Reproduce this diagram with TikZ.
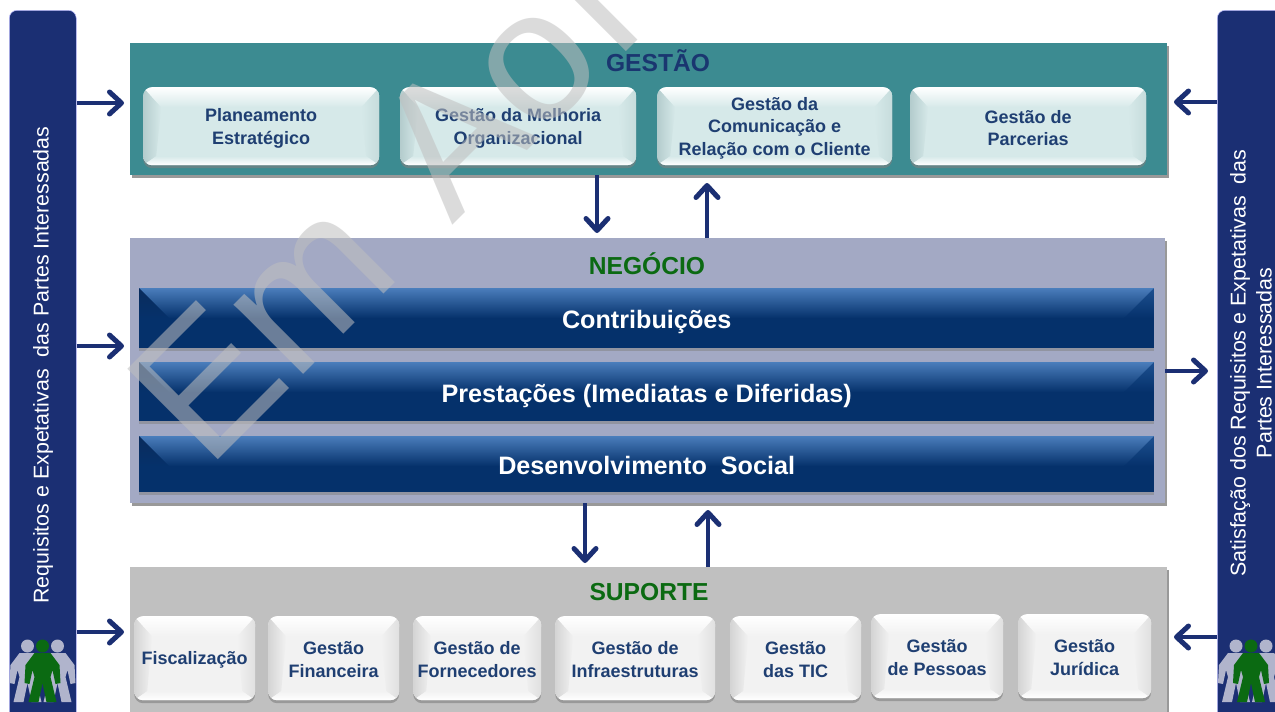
\documentclass[tikz,border=0pt]{standalone}
\usepackage{fontspec}
\setmainfont{Liberation Sans}
\usetikzlibrary{arrows.meta,shadows,calc}
\definecolor{navy}{HTML}{1B2F73}
\definecolor{titlenavy}{HTML}{1A3670}
\definecolor{titlegreen}{HTML}{0B6A12}
\definecolor{tealp}{HTML}{3C8B91}
\definecolor{slatep}{HTML}{A3A9C4}
\definecolor{grayp}{HTML}{C0C0C0}
\definecolor{boxtxt}{HTML}{1F3F72}
\definecolor{gfill}{HTML}{D6E9E9}
\definecolor{gside}{HTML}{B4CCCD}
\definecolor{gsider}{HTML}{C6DCDC}
\definecolor{sfill}{HTML}{F2F2F2}
\definecolor{sside}{HTML}{D4D4D4}
\definecolor{siderr}{HTML}{E0E0E0}
\definecolor{barfill}{HTML}{05316B}
\definecolor{bartop}{HTML}{4A7DBB}
\definecolor{barside}{HTML}{0A2C5C}
\definecolor{barright}{HTML}{1D5090}
\definecolor{personc}{HTML}{B0B4CC}
\newcommand{\bartext}[2]{\raisebox{#1}[0pt][0pt]{#2}}
\tikzset{
  x=1pt,y=-1pt,
  panel/.style={draw=none,fill=#1,minimum width=1037pt,inner sep=0pt,copy shadow={shadow xshift=2pt,shadow yshift=-3pt,fill=black!50,draw=none,opacity=.8}},
  ptitle/.style={font=\bfseries\fontsize{24.6}{27}\selectfont,text=#1,inner sep=0pt},
  softtxt/.style={inner sep=0pt,align=center,font=\bfseries\fontsize{18}{22.5}\selectfont,text=boxtxt},
  softbox/.style n args={3}{rounded corners=9pt,inner sep=0pt,anchor=north west,fill=#1,
    drop shadow={shadow xshift=0pt,shadow yshift=-3pt,opacity=.6},
    path picture={
      \begin{scope}[sharp corners]
      \path let \p1=(path picture bounding box.south west),\p2=(path picture bounding box.north east) in
        coordinate (A) at (\x1,\y1) coordinate (C) at (\x2,\y2) coordinate (B) at (\x2,\y1) coordinate (D) at (\x1,\y2);
      \coordinate (a) at ($(A)+(13pt,9pt)$);
      \coordinate (b) at ($(B)+(-13pt,9pt)$);
      \coordinate (c) at ($(C)+(-18pt,-20pt)$);
      \coordinate (d) at ($(D)+(18pt,-20pt)$);
      \shade[left color=#2,right color=#1] (A)--(a)--(d)--(D)--cycle;
      \shade[left color=#1,right color=#3] (B)--(b)--(c)--(C)--cycle;
      \shade[top color=white,bottom color=#1] (D)--(d)--(c)--(C)--cycle;
      \shade[top color=#1,bottom color=white] (A)--(a)--(b)--(B)--cycle;
      \end{scope}
    }},
  gbox/.style={softbox={gfill}{gside}{gsider}},
  sbox/.style={softbox={sfill}{sside}{siderr}},
  bluebar/.style={inner sep=0pt,anchor=north west,minimum width=1015pt,text=white,
    font=\bfseries\fontsize{25.2}{28}\selectfont,fill=barfill,
    drop shadow={shadow xshift=0pt,shadow yshift=-3pt,opacity=.5},
    path picture={
      \path let \p1=(path picture bounding box.south west),\p2=(path picture bounding box.north east) in
        coordinate (D) at (\x1,\y2) coordinate (C) at (\x2,\y2);
      \coordinate (d) at ($(D)+(30pt,-30pt)$);
      \coordinate (c) at ($(C)+(-30pt,-30pt)$);
      \coordinate (e) at ($(D)+(0pt,-30pt)$);
      \coordinate (f) at ($(C)+(0pt,-30pt)$);
      \shade[top color=bartop,bottom color=barfill] (D)--(d)--(c)--(C)--cycle;
      \shade[top color=barside,bottom color=barfill] (D)--(d)--(e)--cycle;
      \shade[top color=barright,bottom color=barfill] (C)--(c)--(f)--cycle;
    }},
  sidebar/.style={fill=navy,draw=blue!25!white,line width=.5pt,rounded corners=8pt,inner sep=0pt,anchor=north west},
  sidetxt/.style={text=white,font=\fontsize{21.4}{26}\selectfont,rotate=90,inner sep=0pt,align=center},
  flow/.style={draw=navy,line width=4pt,-{Straight Barb[round,length=12pt,width=22pt,line width=5pt]}},
  person/.pic={
    \fill[pic actions] (0,-25) circle (6.5);
    \fill[pic actions] (-8,-18) -- (8,-18) -- (17,-6) -- (18,12) -- (13,13) -- (10,-1) -- (8,6) -- (14,31) -- (4,31) -- (0,12) -- (-4,31) -- (-14,31) -- (-8,6) -- (-10,-1) -- (-13,13) -- (-18,12) -- (-17,-6) -- cycle;
  },
}
\begin{document}
\begin{tikzpicture}
\useasboundingbox (0,0) rectangle (1275,712);
\clip (0,0) rectangle (1275,712);
\fill[white] (0,0) rectangle (1275,712);

% side bars
\node[sidebar,minimum width=67pt,minimum height=730pt] (lbar) at (9,10) {};
\node[sidebar,minimum width=80pt,minimum height=730pt] (rbar) at (1217,10) {};
\node[sidetxt] (ltxt) at (43,365) {Requisitos e Expetativas\ \ das Partes Interessadas};
\node[sidetxt] (rtxt) at (1251,363) {Satisfação dos Requisitos e Expetativas\ \ das\\Partes Interessadas};

% people
\foreach \px in {42.5,1251}{
  \pic[fill=personc] at (\px-15,671) {person};
  \pic[fill=personc] at (\px+15,671) {person};
  \pic[fill=titlegreen] at (\px,671) {person};
}

% panels
\node[panel=tealp,minimum height=132pt,anchor=north west] (gestao) at (130,43) {};
\node[panel=slatep,minimum height=265pt,anchor=north west,minimum width=1035pt] (negocio) at (130,238) {};
\node[panel=grayp,minimum height=160pt,anchor=north west] (suporte) at (130,567) {};
\node[ptitle=titlenavy] (tg) at (658,61) {GESTÃO};
\node[ptitle=titlegreen] (tn) at (647,264) {NEGÓCIO};
\node[ptitle=titlegreen] (ts) at (649,592) {SUPORTE};

% gestao boxes
\foreach \nm/\xx/\ww/\txt in {g1/143/236/{Planeamento\\Estratégico},g2/400/236/{Gestão da Melhoria\\Organizacional},g3/657/235/{Gestão da\\Comunicação e\\Relação com o Cliente},g4/910/236/{Gestão de\\Parcerias}}{
  \node[gbox,minimum width=\ww pt,minimum height=78pt] (\nm) at (\xx,87) {};
  \node[softtxt] (\nm t) at ($(\nm.center)+(0,2)$) {\txt};
}
% negocio bars
\node[bluebar,minimum height=60pt] (b1) at (139,288) {\bartext{-10pt}{Contribuições}};
\node[bluebar,minimum height=59pt] (b2) at (139,362) {\bartext{-10.5pt}{Prestações (Imediatas e Diferidas)}};
\node[bluebar,minimum height=56pt] (b3) at (139,436) {\bartext{-10pt}{Desenvolvimento\ \ Social}};
% suporte boxes
\foreach \nm/\xx/\yy/\ww/\txt in {s1/134/616/121/{Fiscalização},s2/268/616/131/{Gestão\\Financeira},s3/413/616/128/{Gestão de\\Fornecedores},s4/555/616/160/{Gestão de\\Infraestruturas},s5/730/616/131/{Gestão\\das TIC},s6/871/614/132/{Gestão\\de Pessoas},s7/1018/614/133/{Gestão\\Jurídica}}{
  \node[sbox,minimum width=\ww pt,minimum height=84pt] (\nm) at (\xx,\yy) {};
  \node[softtxt] (\nm t) at ($(\nm.center)+(0,1.5)$) {\txt};
}

% connectors
\coordinate (la) at (124,103); \coordinate (lb) at (124,346); \coordinate (lc) at (124,632);
\coordinate (ra) at (1174,102); \coordinate (rb) at (1208,371); \coordinate (rc) at (1174,637);
\draw[flow] (lbar.east |- la) -- (la);
\draw[flow] (lbar.east |- lb) -- (lb);
\draw[flow] (lbar.east |- lc) -- (lc);
\draw[flow] (rbar.west |- ra) -- (ra);
\draw[flow] (negocio.east |- rb) -- (rb);
\draw[flow] (rbar.west |- rc) -- (rc);
\coordinate (v1) at (597,233); \coordinate (v2) at (707,183); \coordinate (v3) at (585,563); \coordinate (v4) at (708,510);
\draw[flow] (gestao.south -| v1) -- (v1);
\draw[flow] (negocio.north -| v2) -- (v2);
\draw[flow] (negocio.south -| v3) -- (v3);
\draw[flow] (suporte.north -| v4) -- (v4);

% watermark
\node[rotate=45,anchor=base west,inner sep=0pt,text=black!25,opacity=.55,font=\fontsize{186}{186}\selectfont] (wm) at (207,471) {Em\kern16pt{} A\kern-4pt o\kern10pt l};
\end{tikzpicture}
\end{document}
